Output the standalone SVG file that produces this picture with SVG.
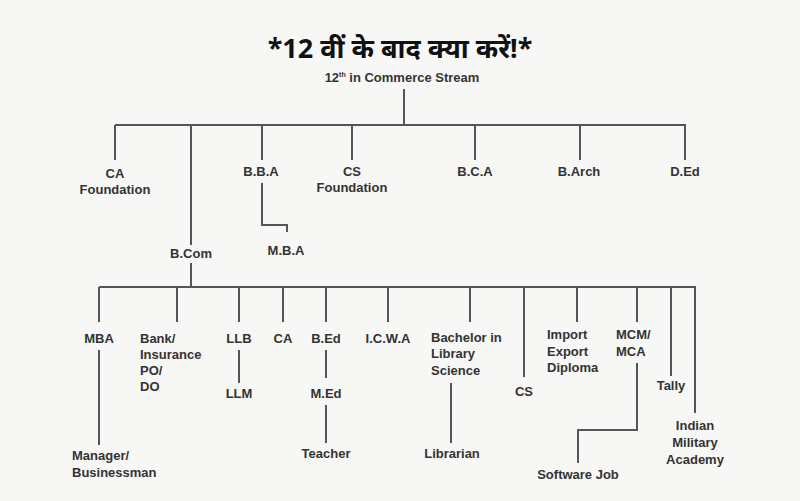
<svg xmlns="http://www.w3.org/2000/svg" width="800" height="501" viewBox="0 0 800 501">
<style>
text{font-family:"Liberation Sans","Noto Sans",sans-serif;font-size:13px;fill:#333;text-anchor:middle;font-weight:bold}
.l{text-anchor:start}
#conn path{fill:none;stroke:#555;stroke-width:2}
</style>
<rect width="800" height="501" fill="#f7f7f6"/>
<g id="title"><text x="400" y="58" style="font-size:27px;font-family:'Noto Sans','Liberation Sans',sans-serif;fill:#111">*12 वीं के बाद क्या करें!*</text></g>
<g id="root"><text x="402" y="82">12<tspan dy="-5" style="font-size:7px">th</tspan><tspan dy="5"> in Commerce Stream</tspan></text></g>
<g id="conn">
<path d="M404 89V125M115 125H686M115 125V160M191 125V245M262 125V160M352 125V160M475 125V160M580 125V160M685 125V160"/>
<path d="M262 183V225H287V232"/>
<path d="M191 263V287M99 287H696M99 287V322M177 287V322M239 287V322M283 287V322M326 287V322M388 287V322M470 287V322M524 287V377M577 287V322M637 287V322M671 287V376M695 287V413"/>
<path d="M99 350V445M239 350V383M326 350V378M326 405V443M451 383V443M637 363V430H578V463"/>
</g>
<g id="ca"><text x="115" y="178">CA</text><text x="115" y="194">Foundation</text></g>
<g id="bcom"><text x="191" y="258">B.Com</text></g>
<g id="bba"><text x="261" y="176">B.B.A</text></g>
<g id="mba1"><text x="286" y="255">M.B.A</text></g>
<g id="cs"><text x="352" y="176">CS</text><text x="352" y="192">Foundation</text></g>
<g id="bca"><text x="475" y="176">B.C.A</text></g>
<g id="barch"><text x="579" y="176">B.Arch</text></g>
<g id="ded"><text x="685" y="176">D.Ed</text></g>
<g id="mba"><text x="99" y="343">MBA</text></g>
<g id="bank"><text class="l" x="140" y="343">Bank/</text><text class="l" x="140" y="359">Insurance</text><text class="l" x="140" y="375">PO/</text><text class="l" x="140" y="391">DO</text></g>
<g id="llb"><text x="239" y="343">LLB</text></g>
<g id="llm"><text x="239" y="398">LLM</text></g>
<g id="ca2"><text x="283" y="343">CA</text></g>
<g id="bed"><text x="326" y="343">B.Ed</text></g>
<g id="med"><text x="326" y="398">M.Ed</text></g>
<g id="teacher"><text x="326" y="458">Teacher</text></g>
<g id="icwa"><text x="388" y="343">I.C.W.A</text></g>
<g id="blib"><text class="l" x="431" y="342">Bachelor in</text><text class="l" x="431" y="358">Library</text><text class="l" x="431" y="375">Science</text></g>
<g id="librarian"><text x="452" y="458">Librarian</text></g>
<g id="cs2"><text x="524" y="396">CS</text></g>
<g id="import"><text class="l" x="547" y="339">Import</text><text class="l" x="547" y="356">Export</text><text class="l" x="547" y="372">Diploma</text></g>
<g id="mcm"><text class="l" x="616" y="339">MCM/</text><text class="l" x="616" y="356">MCA</text></g>
<g id="sw"><text x="578" y="479">Software Job</text></g>
<g id="tally"><text x="671" y="390">Tally</text></g>
<g id="mil"><text x="695" y="430">Indian</text><text x="695" y="447">Military</text><text x="695" y="464">Academy</text></g>
<g id="mgr"><text class="l" x="72" y="460">Manager/</text><text class="l" x="72" y="477">Businessman</text></g>
</svg>
